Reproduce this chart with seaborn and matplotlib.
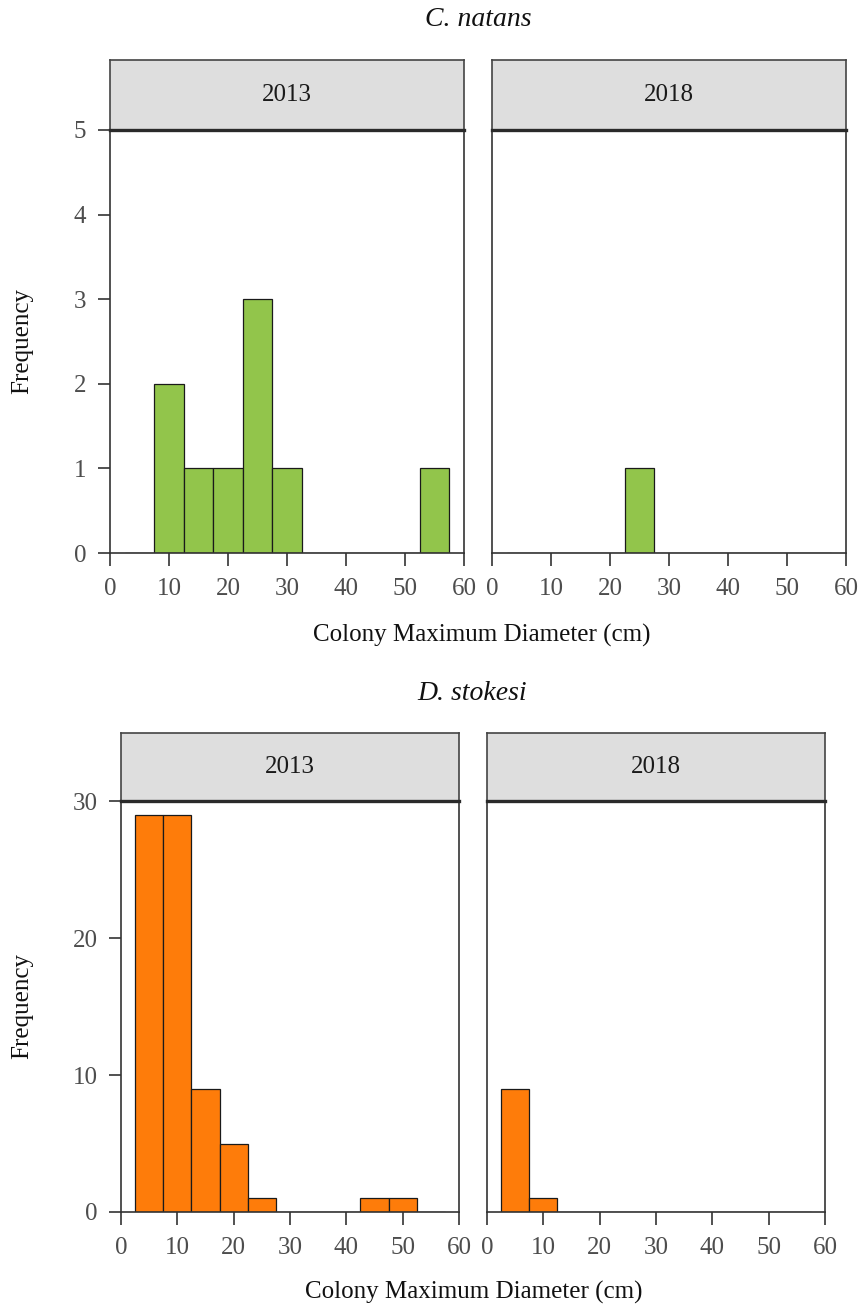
import matplotlib
matplotlib.use("Agg")
import matplotlib.pyplot as plt
import numpy as np
import pandas as pd
import seaborn as sns

# Colony size classes (5 cm bins centred on 5, 10, ..., 55 cm)
bin_centers = [5, 10, 15, 20, 25, 30, 35, 40, 45, 50, 55]

# Colony counts per size class
natans_2013 = [0, 2, 1, 1, 3, 1, 0, 0, 0, 0, 1]
natans_2018 = [0, 0, 0, 0, 1, 0, 0, 0, 0, 0, 0]
stokesi_2013 = [29, 29, 9, 5, 1, 0, 0, 0, 1, 1, 0]
stokesi_2018 = [9, 1, 0, 0, 0, 0, 0, 0, 0, 0, 0]

years = ["2013", "2018"]
species = ["C. natans", "D. stokesi"]
natans_yticks = [0, 1, 2, 3, 4, 5]
stokesi_yticks = [0, 10, 20, 30]
x_ticks = [0, 10, 20, 30, 40, 50, 60]

GREEN = "#92C54B"
ORANGE = "#FE7C0A"
STRIP = "#DEDEDE"
FRAME = "#333333"

sns.set_theme(style="white")
plt.rcParams["font.family"] = ["Liberation Serif", "DejaVu Serif"]

W, H = 861, 1312
fig = plt.figure(figsize=(W / 100, H / 100), dpi=100)


def px_rect(x0, x1, ytop, ybot):
    return [x0 / W, 1 - ybot / H, (x1 - x0) / W, (ybot - ytop) / H]


def draw_panel(rect, strip_rect, counts, color, year, yticks, show_y):
    ax = fig.add_axes(rect)
    df = pd.DataFrame({"diameter": bin_centers, "count": counts})
    sns.histplot(data=df, x="diameter", weights="count",
                 binwidth=5, binrange=(2.5, 57.5),
                 color=color, edgecolor="#1a1a1a", linewidth=0.9,
                 alpha=1, ax=ax)
    ax.set_xlim(0, 60)
    ax.set_ylim(0, yticks[-1])
    ax.set_xticks(x_ticks)
    ax.set_yticks(yticks)
    ax.set_xlabel("")
    ax.set_ylabel("")
    for s in ax.spines.values():
        s.set_color(FRAME)
        s.set_linewidth(1.2)
    ax.tick_params(axis="x", direction="out", length=9, width=1.2,
                   color=FRAME, labelsize=18, labelcolor="#4d4d4d", pad=9,
                   bottom=True)
    if show_y:
        ax.tick_params(axis="y", direction="out", length=9, width=1.2,
                       color=FRAME, labelsize=18, labelcolor="#4d4d4d",
                       pad=8, left=True)
    else:
        ax.tick_params(axis="y", left=False, labelleft=False)
    ax.grid(False)

    st = fig.add_axes(strip_rect)
    st.set_facecolor(STRIP)
    st.set_xticks([])
    st.set_yticks([])
    for s in st.spines.values():
        s.set_color("#444444")
        s.set_linewidth(1.2)
    st.spines["bottom"].set_linewidth(2.4)
    st.spines["bottom"].set_color("#2a2a2a")
    st.text(0.5, 0.5, year, ha="center", va="center", fontsize=18,
            color="#1a1a1a", transform=st.transAxes)
    return ax


# C. natans
draw_panel(px_rect(110, 464, 130, 553), px_rect(110, 464, 60, 130),
           natans_2013, GREEN, years[0], natans_yticks, True)
draw_panel(px_rect(492, 846, 130, 553), px_rect(492, 846, 60, 130),
           natans_2018, GREEN, years[1], natans_yticks, False)

# D. stokesi
draw_panel(px_rect(121, 459, 801, 1212), px_rect(121, 459, 733, 801),
           stokesi_2013, ORANGE, years[0], stokesi_yticks, True)
draw_panel(px_rect(487, 825, 801, 1212), px_rect(487, 825, 733, 801),
           stokesi_2018, ORANGE, years[1], stokesi_yticks, False)

xlabel = "Colony Maximum Diameter (cm)"
fig.text(478 / W, 1 - 20 / H, species[0], ha="center", va="center",
         fontsize=20, style="italic", color="#111111")
fig.text(472 / W, 1 - 693 / H, species[1], ha="center", va="center",
         fontsize=20, style="italic", color="#111111")
fig.text(482 / W, 1 - 635 / H, xlabel, ha="center", va="center",
         fontsize=18, color="#111111")
fig.text(474 / W, 1 - 1292 / H, xlabel, ha="center", va="center",
         fontsize=18, color="#111111")
fig.text(22 / W, 1 - 341 / H, "Frequency", ha="center", va="center",
         rotation=90, fontsize=18, color="#111111")
fig.text(22 / W, 1 - 1006 / H, "Frequency", ha="center", va="center",
         rotation=90, fontsize=18, color="#111111")

fig.savefig("out.png", dpi=100, facecolor="white")
